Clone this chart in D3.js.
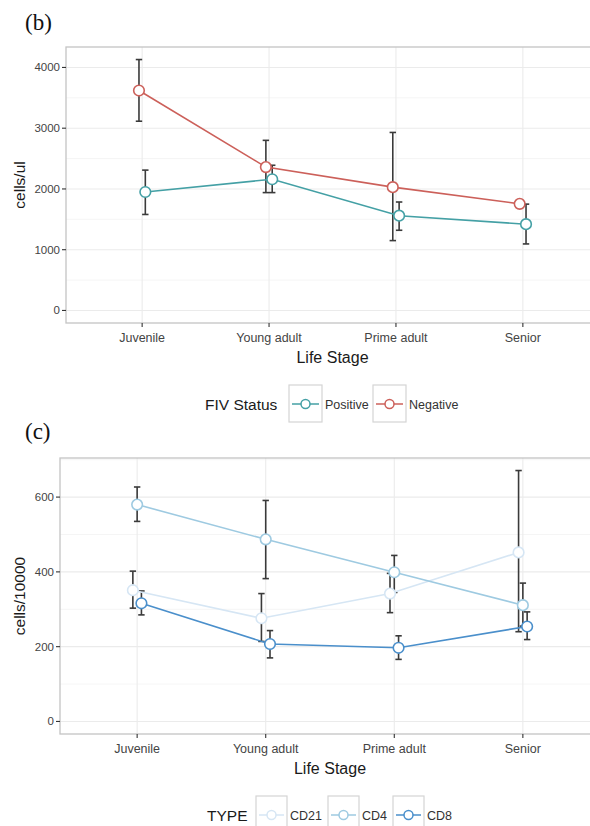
<!DOCTYPE html>
<html>
<head>
<meta charset="utf-8">
<script src="https://cdn.jsdelivr.net/npm/d3@7/dist/d3.min.js"></script>
<style>
  html, body { margin: 0; padding: 0; background: #fff; }
  svg { display: block; }
</style>
</head>
<body>
<svg id="chart" width="590" height="826" font-family="Liberation Sans, Arial, sans-serif"></svg>
<script>
// Life stages on the x axis (shared by both panels)
const stages = ["Juvenile", "Young adult", "Prime adult", "Senior"];

// Panel (b): absolute counts, cells/ul, by FIV status
const bTicks = [0, 1000, 2000, 3000, 4000];
const fivStatus = ["Positive", "Negative"];
const positiveMean = [1950, 2160, 1560, 1420];
const positiveLow  = [1580, 1940, 1320, 1095];
const positiveHigh = [2310, 2390, 1785, 1750];
const negativeMean = [3620, 2360, 2030, 1755];
const negativeLow  = [3115, 1940, 1150, 1720];
const negativeHigh = [4130, 2800, 2930, 1790];

// Panel (c): cells/10000, by lymphocyte type
const cTicks = [0, 200, 400, 600];
const cellTypes = ["CD21", "CD4", "CD8"];
const cd21Mean = [351, 276, 342, 452];
const cd21Low  = [303, 214, 291, 240];
const cd21High = [402, 342, 396, 671];
const cd4Mean  = [580, 487, 399, 311];
const cd4Low   = [535, 382, 345, 255];
const cd4High  = [627, 591, 444, 370];
const cd8Mean  = [316, 207, 197, 254];
const cd8Low   = [285, 170, 166, 219];
const cd8High  = [349, 243, 229, 293];

const svg = d3.select("#chart");

function series(name, color, mean, low, high) {
  return { name, color, rows: stages.map((s, i) => ({ i, mean: mean[i], low: low[i], high: high[i] })) };
}

function drawPanel(opt) {
  const g = svg.append("g");
  const { left, right, top, bottom } = opt.box;

  // discrete x positions with 0.6 expansion on each side
  const x = d3.scaleLinear().domain([-0.6, stages.length - 1 + 0.6]).range([left, right]);
  // y domain: include 0, expand by 5% of the range
  const allHigh = d3.max(opt.series, s => d3.max(s.rows, r => r.high));
  const pad = allHigh * 0.05;
  const y = d3.scaleLinear().domain([-pad, allHigh + pad]).range([bottom, top]);

  // grid
  const step = opt.ticks[1] - opt.ticks[0];
  const minor = d3.range(opt.ticks[0] - step / 2, allHigh + pad, step).filter(v => v > -pad && v < allHigh + pad);
  g.selectAll(".minor").data(minor).join("line")
    .attr("x1", left).attr("x2", right)
    .attr("y1", d => y(d)).attr("y2", d => y(d))
    .attr("stroke", "#f3f3f3").attr("stroke-width", 0.8);
  g.selectAll(".majory").data(opt.ticks).join("line")
    .attr("x1", left).attr("x2", right)
    .attr("y1", d => y(d)).attr("y2", d => y(d))
    .attr("stroke", "#ebebeb").attr("stroke-width", 1.1);
  g.selectAll(".majorx").data(stages.map((s, i) => i)).join("line")
    .attr("x1", d => x(d)).attr("x2", d => x(d))
    .attr("y1", top).attr("y2", bottom)
    .attr("stroke", "#ebebeb").attr("stroke-width", 1.1);

  // panel border
  g.append("rect")
    .attr("x", left).attr("y", top)
    .attr("width", right - left).attr("height", bottom - top)
    .attr("fill", "none").attr("stroke", "#c4c4c4").attr("stroke-width", 1.3);

  // y axis ticks + labels
  opt.ticks.forEach(t => {
    g.append("line").attr("x1", left - 4).attr("x2", left)
      .attr("y1", y(t)).attr("y2", y(t)).attr("stroke", "#333").attr("stroke-width", 1.1);
    g.append("text").attr("x", left - 6).attr("y", y(t)).attr("dy", "0.35em")
      .attr("text-anchor", "end").attr("font-size", 11.5).attr("fill", "#444").text(t);
  });
  // x axis ticks + labels
  stages.forEach((s, i) => {
    g.append("line").attr("x1", x(i)).attr("x2", x(i))
      .attr("y1", bottom).attr("y2", bottom + 4).attr("stroke", "#333").attr("stroke-width", 1.1);
    g.append("text").attr("x", x(i)).attr("y", bottom + opt.xLabelOffset)
      .attr("text-anchor", "middle").attr("font-size", 12.5).attr("fill", "#444").text(s);
  });

  // axis titles
  g.append("text").attr("x", (left + right) / 2).attr("y", bottom + opt.xTitleOffset)
    .attr("text-anchor", "middle").attr("font-size", 16).attr("fill", "#1a1a1a").text("Life Stage");
  g.append("text")
    .attr("transform", `translate(25,${(top + bottom) / 2}) rotate(-90)`)
    .attr("text-anchor", "middle").attr("font-size", 15.5).attr("fill", "#1a1a1a").text(opt.yTitle);

  // panel tag
  svg.append("text").attr("x", 25).attr("y", opt.tagY)
    .attr("font-family", "Liberation Serif, Times New Roman, serif")
    .attr("font-size", 23).attr("fill", "#111").text(opt.tag);

  // dodge offsets (total width 0.1)
  const n = opt.series.length;
  const dodge = k => (k - (n - 1) / 2) * (0.1 / n);

  // error bars
  opt.series.forEach((s, k) => {
    const eb = g.append("g");
    s.rows.forEach(r => {
      const cx = x(r.i + dodge(k));
      eb.append("line").attr("x1", cx).attr("x2", cx)
        .attr("y1", y(r.low)).attr("y2", y(r.high))
        .attr("stroke", "#3a3a3a").attr("stroke-width", 1.6);
      [r.low, r.high].forEach(v => {
        eb.append("line").attr("x1", cx - 3.2).attr("x2", cx + 3.2)
          .attr("y1", y(v)).attr("y2", y(v))
          .attr("stroke", "#3a3a3a").attr("stroke-width", 1.6);
      });
    });
  });

  // lines
  opt.series.forEach((s, k) => {
    g.append("path").datum(s.rows)
      .attr("d", d3.line().x(r => x(r.i + dodge(k))).y(r => y(r.mean)))
      .attr("fill", "none").attr("stroke", s.color).attr("stroke-width", 1.6);
  });
  // points
  opt.series.forEach((s, k) => {
    g.selectAll(null).data(s.rows).join("circle")
      .attr("cx", r => x(r.i + dodge(k))).attr("cy", r => y(r.mean)).attr("r", 5.3)
      .attr("fill", "#fff").attr("stroke", s.color).attr("stroke-width", 1.6);
  });

  // legend
  const L = opt.legend;
  const lg = svg.append("g");
  lg.append("text").attr("x", L.titleX).attr("y", L.y + 5.5)
    .attr("font-size", 15.5).attr("fill", "#1a1a1a").text(L.title);
  L.order.forEach((name, k) => {
    const s = opt.series.find(d => d.name === name);
    const kx = L.keyX[k];
    const kw = L.keyW;
    lg.append("rect").attr("x", kx).attr("y", L.y - 19)
      .attr("width", kw).attr("height", 37)
      .attr("fill", "#fff").attr("stroke", "#d4d4d4").attr("stroke-width", 1.2);
    lg.append("line").attr("x1", kx + 3).attr("x2", kx + kw - 3)
      .attr("y1", L.y).attr("y2", L.y)
      .attr("stroke", s.color).attr("stroke-width", 1.5);
    lg.append("circle").attr("cx", kx + kw / 2).attr("cy", L.y).attr("r", 4.5)
      .attr("fill", "#fff").attr("stroke", s.color).attr("stroke-width", 1.5);
    lg.append("text").attr("x", kx + kw + 3).attr("y", L.y + 4.5)
      .attr("font-size", 12.5).attr("fill", "#333").text(s.name);
  });
}

drawPanel({
  box: { left: 66, right: 599, top: 47, bottom: 323 },
  ticks: bTicks,
  yTitle: "cells/ul",
  tag: "(b)",
  tagY: 30,
  xLabelOffset: 19,
  xTitleOffset: 40,
  series: [
    series(fivStatus[1], "#cc605a", negativeMean, negativeLow, negativeHigh),
    series(fivStatus[0], "#44a0a5", positiveMean, positiveLow, positiveHigh)
  ],
  legend: { title: "FIV Status", titleX: 205, y: 404, keyX: [289, 373], keyW: 33, order: fivStatus }
});

drawPanel({
  box: { left: 60, right: 600, top: 458, bottom: 734 },
  ticks: cTicks,
  yTitle: "cells/10000",
  tag: "(c)",
  tagY: 439,
  xLabelOffset: 19,
  xTitleOffset: 40,
  series: [
    series(cellTypes[0], "#d6e6f4", cd21Mean, cd21Low, cd21High),
    series(cellTypes[1], "#9ecae1", cd4Mean, cd4Low, cd4High),
    series(cellTypes[2], "#4a8fcb", cd8Mean, cd8Low, cd8High)
  ],
  legend: { title: "TYPE", titleX: 207, y: 815, keyX: [256, 328, 393], keyW: 31, order: cellTypes }
});
</script>
</body>
</html>
